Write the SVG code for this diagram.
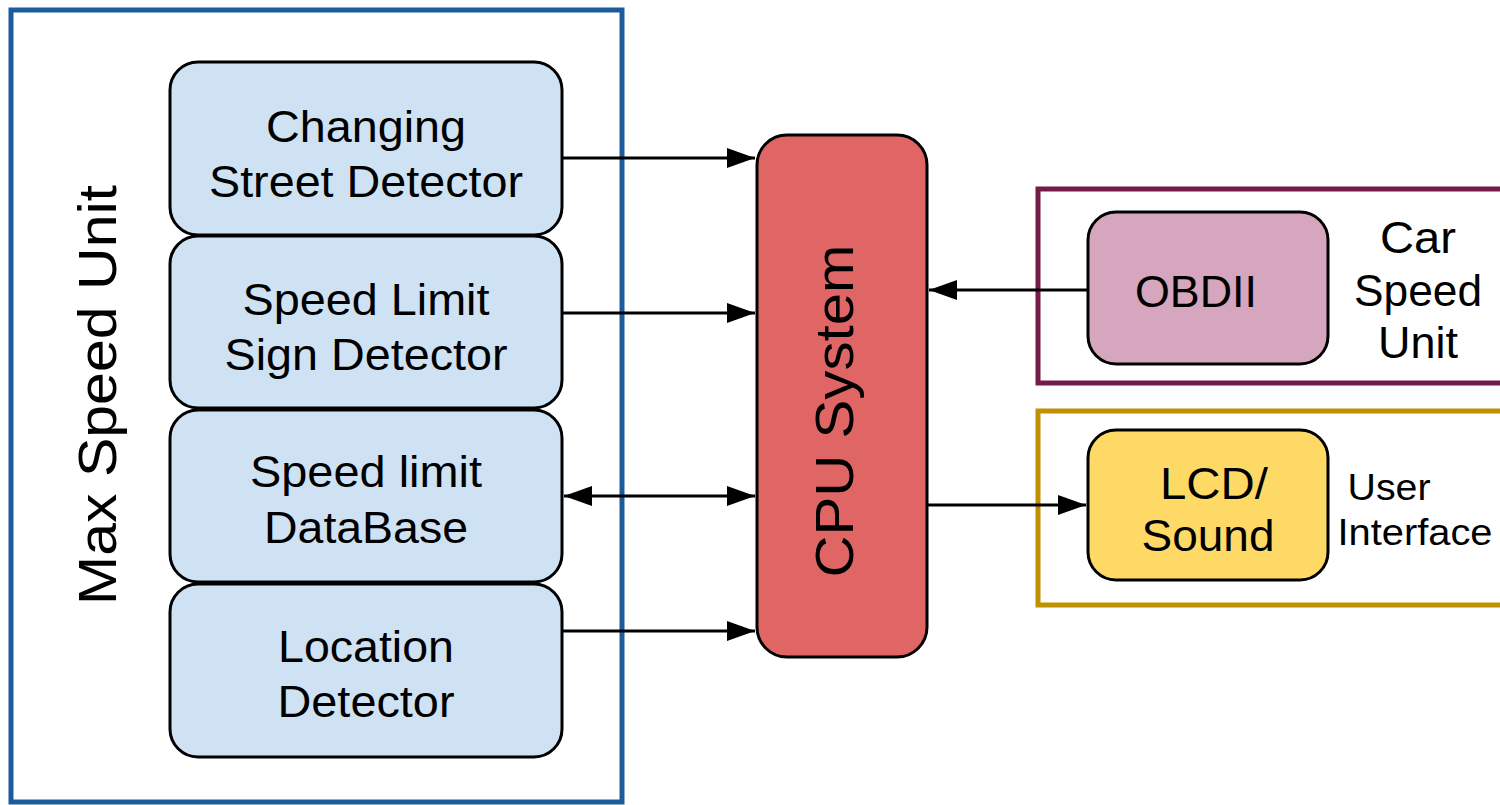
<svg xmlns="http://www.w3.org/2000/svg" width="1500" height="805" viewBox="0 0 1500 805">
  <style>
    text { font-family: "Liberation Sans", Arial, sans-serif; fill: #000; text-anchor: middle; dominant-baseline: central; }
    .frame { fill: #fff; stroke-width: 5; }
    .node { stroke: #000; stroke-width: 3; }
    .blue { fill: #cfe2f3; }
    .lbl { font-size: 44px; }
    .conn { stroke: #000; stroke-width: 3; fill: none; }
  </style>
  <defs>
    <marker id="arrow" viewBox="0 0 28 20" refX="28" refY="10" markerWidth="28" markerHeight="20" markerUnits="userSpaceOnUse" orient="auto-start-reverse">
      <path d="M0,0 L28,10 L0,20 Z" fill="#000"/>
    </marker>
  </defs>
  <rect width="1500" height="805" fill="#fff"/>

  <!-- Max Speed Unit group -->
  <g id="max-speed-unit">
    <rect class="frame" x="11" y="10" width="611" height="792" stroke="#1c5c9c"/>
    <text transform="translate(97,395) rotate(-90)" font-size="54" textLength="420" lengthAdjust="spacingAndGlyphs">Max Speed Unit</text>
  </g>

  <g id="changing-street-detector">
    <rect class="node blue" x="170" y="62" width="392" height="173" rx="28"/>
    <text class="lbl" x="366" y="126" textLength="200" lengthAdjust="spacingAndGlyphs">Changing</text>
    <text class="lbl" x="366" y="181" textLength="314" lengthAdjust="spacingAndGlyphs">Street Detector</text>
  </g>
  <g id="speed-limit-sign-detector">
    <rect class="node blue" x="170" y="236" width="392" height="172" rx="28"/>
    <text class="lbl" x="366" y="299" textLength="247" lengthAdjust="spacingAndGlyphs">Speed Limit</text>
    <text class="lbl" x="366" y="354" textLength="283" lengthAdjust="spacingAndGlyphs">Sign Detector</text>
  </g>
  <g id="speed-limit-database">
    <rect class="node blue" x="170" y="410" width="392" height="172" rx="28"/>
    <text class="lbl" x="366" y="471" textLength="232" lengthAdjust="spacingAndGlyphs">Speed limit</text>
    <text class="lbl" x="366" y="527" textLength="204" lengthAdjust="spacingAndGlyphs">DataBase</text>
  </g>
  <g id="location-detector">
    <rect class="node blue" x="170" y="584" width="392" height="173" rx="28"/>
    <text class="lbl" x="366" y="646" textLength="176" lengthAdjust="spacingAndGlyphs">Location</text>
    <text class="lbl" x="366" y="701" textLength="177" lengthAdjust="spacingAndGlyphs">Detector</text>
  </g>

  <!-- CPU -->
  <g id="cpu-system">
    <rect class="node" x="757" y="135" width="170" height="522" rx="30" fill="#e06666"/>
    <text transform="translate(834,411) rotate(-90)" font-size="54" textLength="333" lengthAdjust="spacingAndGlyphs">CPU System</text>
  </g>

  <!-- Car speed unit -->
  <g id="car-speed-unit">
    <rect class="frame" x="1038" y="189" width="470" height="194" stroke="#741b47"/>
    <text class="lbl" x="1418" y="237" textLength="76" lengthAdjust="spacingAndGlyphs">Car</text>
    <text class="lbl" x="1418" y="290" textLength="128" lengthAdjust="spacingAndGlyphs">Speed</text>
    <text class="lbl" x="1418" y="342" textLength="80" lengthAdjust="spacingAndGlyphs">Unit</text>
  </g>
  <g id="obdii">
    <rect class="node" x="1088" y="212" width="240" height="152" rx="28" fill="#d5a6bd"/>
    <text class="lbl" x="1196" y="291" textLength="122" lengthAdjust="spacingAndGlyphs">OBDII</text>
  </g>

  <!-- User interface -->
  <g id="user-interface">
    <rect class="frame" x="1038" y="411" width="470" height="194" stroke="#bf9000"/>
    <text x="1389" y="487" font-size="36" textLength="83" lengthAdjust="spacingAndGlyphs">User</text>
    <text x="1415" y="532" font-size="36" textLength="155" lengthAdjust="spacingAndGlyphs">Interface</text>
  </g>
  <g id="lcd-sound">
    <rect class="node" x="1088" y="430" width="240" height="150" rx="28" fill="#ffd966"/>
    <text class="lbl" x="1214" y="483" textLength="108" lengthAdjust="spacingAndGlyphs">LCD/</text>
    <text class="lbl" x="1208" y="535" textLength="133" lengthAdjust="spacingAndGlyphs">Sound</text>
  </g>

  <!-- Connectors -->
  <g id="connectors">
    <line class="conn" x1="562" y1="158" x2="755" y2="158" marker-end="url(#arrow)"/>
    <line class="conn" x1="562" y1="313" x2="755" y2="313" marker-end="url(#arrow)"/>
    <line class="conn" x1="564" y1="496" x2="755" y2="496" marker-start="url(#arrow)" marker-end="url(#arrow)"/>
    <line class="conn" x1="562" y1="631" x2="755" y2="631" marker-end="url(#arrow)"/>
    <line class="conn" x1="1088" y1="290" x2="929" y2="290" marker-end="url(#arrow)"/>
    <line class="conn" x1="927" y1="505" x2="1086" y2="505" marker-end="url(#arrow)"/>
  </g>
</svg>
